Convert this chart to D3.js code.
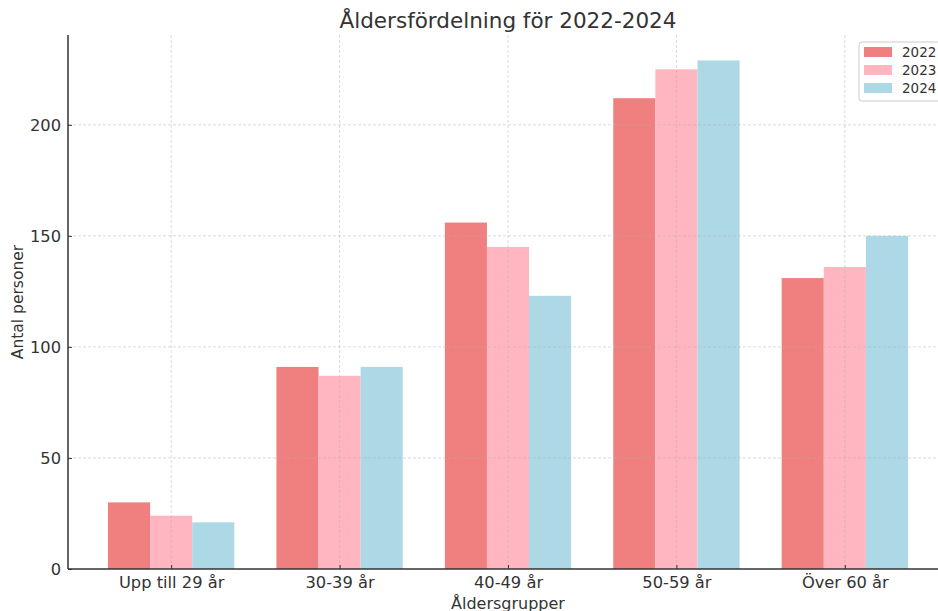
<!DOCTYPE html>
<html>
<head>
<meta charset="utf-8">
<script src="https://cdn.jsdelivr.net/npm/d3@7"></script>
<style>
  body { margin: 0; background: #fff; }
  svg, svg text { font-family: "DejaVu Sans", sans-serif; }
</style>
</head>
<body>
<svg id="chart" width="938" height="611"></svg>
<script>
const categories = ["Upp till 29 år", "30-39 år", "40-49 år", "50-59 år", "Över 60 år"];
const years = ["2022", "2023", "2024"];
const values2022 = [30, 91, 156, 212, 131];
const values2023 = [24, 87, 145, 225, 136];
const values2024 = [21, 91, 123, 229, 150];
const yTicks = [0, 50, 100, 150, 200];
const colors = ["#F08080", "#FFB6C1", "#ADD8E6"];

const series = [values2022, values2023, values2024];

const svg = d3.select("#chart");
const margin = {left: 68, top: 35, bottom: 42};
const plotRight = 948;
const plotBottom = 611 - margin.bottom;

// category index scale with matplotlib-like margins
const barW = 0.25;
const x = d3.scaleLinear()
    .domain([-0.375 - 0.2375, categories.length - 1 + 0.375 + 0.2375])
    .range([margin.left, plotRight]);

const ymax = d3.max(series.flat()) * 1.05;
const y = d3.scaleLinear()
    .domain([0, ymax])
    .range([plotBottom, margin.top]);

// bars
series.forEach((vals, si) => {
    svg.append("g")
        .selectAll("rect")
        .data(vals)
        .join("rect")
        .attr("x", (d, i) => x(i + (si - 1) * barW - barW / 2))
        .attr("width", x(barW) - x(0))
        .attr("y", d => y(d))
        .attr("height", d => y(0) - y(d))
        .attr("fill", colors[si]);
});

// grid on top
const grid = svg.append("g").attr("stroke", "#b0b0b0").attr("stroke-opacity", 0.6)
    .attr("stroke-dasharray", "3,2").attr("stroke-width", 0.8);
grid.selectAll("line.h")
    .data(yTicks.slice(1))
    .join("line")
    .attr("x1", margin.left).attr("x2", plotRight)
    .attr("y1", d => y(d)).attr("y2", d => y(d));
grid.selectAll("line.v")
    .data(categories)
    .join("line")
    .attr("x1", (d, i) => x(i)).attr("x2", (d, i) => x(i))
    .attr("y1", margin.top).attr("y2", plotBottom);

// axes
const yAxis = svg.append("g")
    .attr("transform", `translate(${margin.left},0)`)
    .call(d3.axisLeft(y).tickValues(yTicks).tickSizeInner(-4).tickSizeOuter(0).tickPadding(7));
const xAxis = svg.append("g")
    .attr("transform", `translate(0,${plotBottom})`)
    .call(d3.axisBottom(x).tickValues(d3.range(categories.length))
        .tickFormat(i => categories[i]).tickSizeInner(-4).tickSizeOuter(0).tickPadding(7));

[xAxis, yAxis].forEach(a => {
    a.attr("font-family", null).attr("font-size", null);
    a.select(".domain").attr("stroke", "#333").attr("stroke-width", 1.5);
    a.selectAll(".tick line").attr("stroke", "#333");
    a.selectAll(".tick text").attr("fill", "#333")
        .style("font-family", "'DejaVu Sans', sans-serif").style("font-size", "16.3px");
});
yAxis.select(".domain").attr("d", `M0,${plotBottom}V${margin.top}`);
xAxis.select(".domain").attr("d", `M${margin.left},0H${plotRight}`);

// title and labels
svg.append("text")
    .attr("x", (margin.left + plotRight) / 2).attr("y", 28)
    .attr("text-anchor", "middle").attr("fill", "#333")
    .style("font-size", "21.5px")
    .text("Åldersfördelning för 2022-2024");
svg.append("text")
    .attr("x", (margin.left + plotRight) / 2).attr("y", 609)
    .attr("text-anchor", "middle").attr("fill", "#333")
    .style("font-size", "16px")
    .text("Åldersgrupper");
svg.append("text")
    .attr("transform", `translate(23,${(margin.top + plotBottom) / 2}) rotate(-90)`)
    .attr("text-anchor", "middle").attr("fill", "#333")
    .style("font-size", "15.5px")
    .text("Antal personer");

// legend
const legend = svg.append("g").attr("transform", "translate(859,42)");
legend.append("rect")
    .attr("width", 90).attr("height", 59).attr("rx", 3)
    .attr("fill", "#fff").attr("fill-opacity", 0.8)
    .attr("stroke", "#ccc");
years.forEach((yr, i) => {
    legend.append("rect")
        .attr("x", 5).attr("y", 5 + i * 18)
        .attr("width", 28).attr("height", 10)
        .attr("fill", colors[i]);
    legend.append("text")
        .attr("x", 43).attr("y", 15 + i * 18)
        .attr("fill", "#333").style("font-size", "13.5px")
        .text(yr);
});
</script>
</body>
</html>
